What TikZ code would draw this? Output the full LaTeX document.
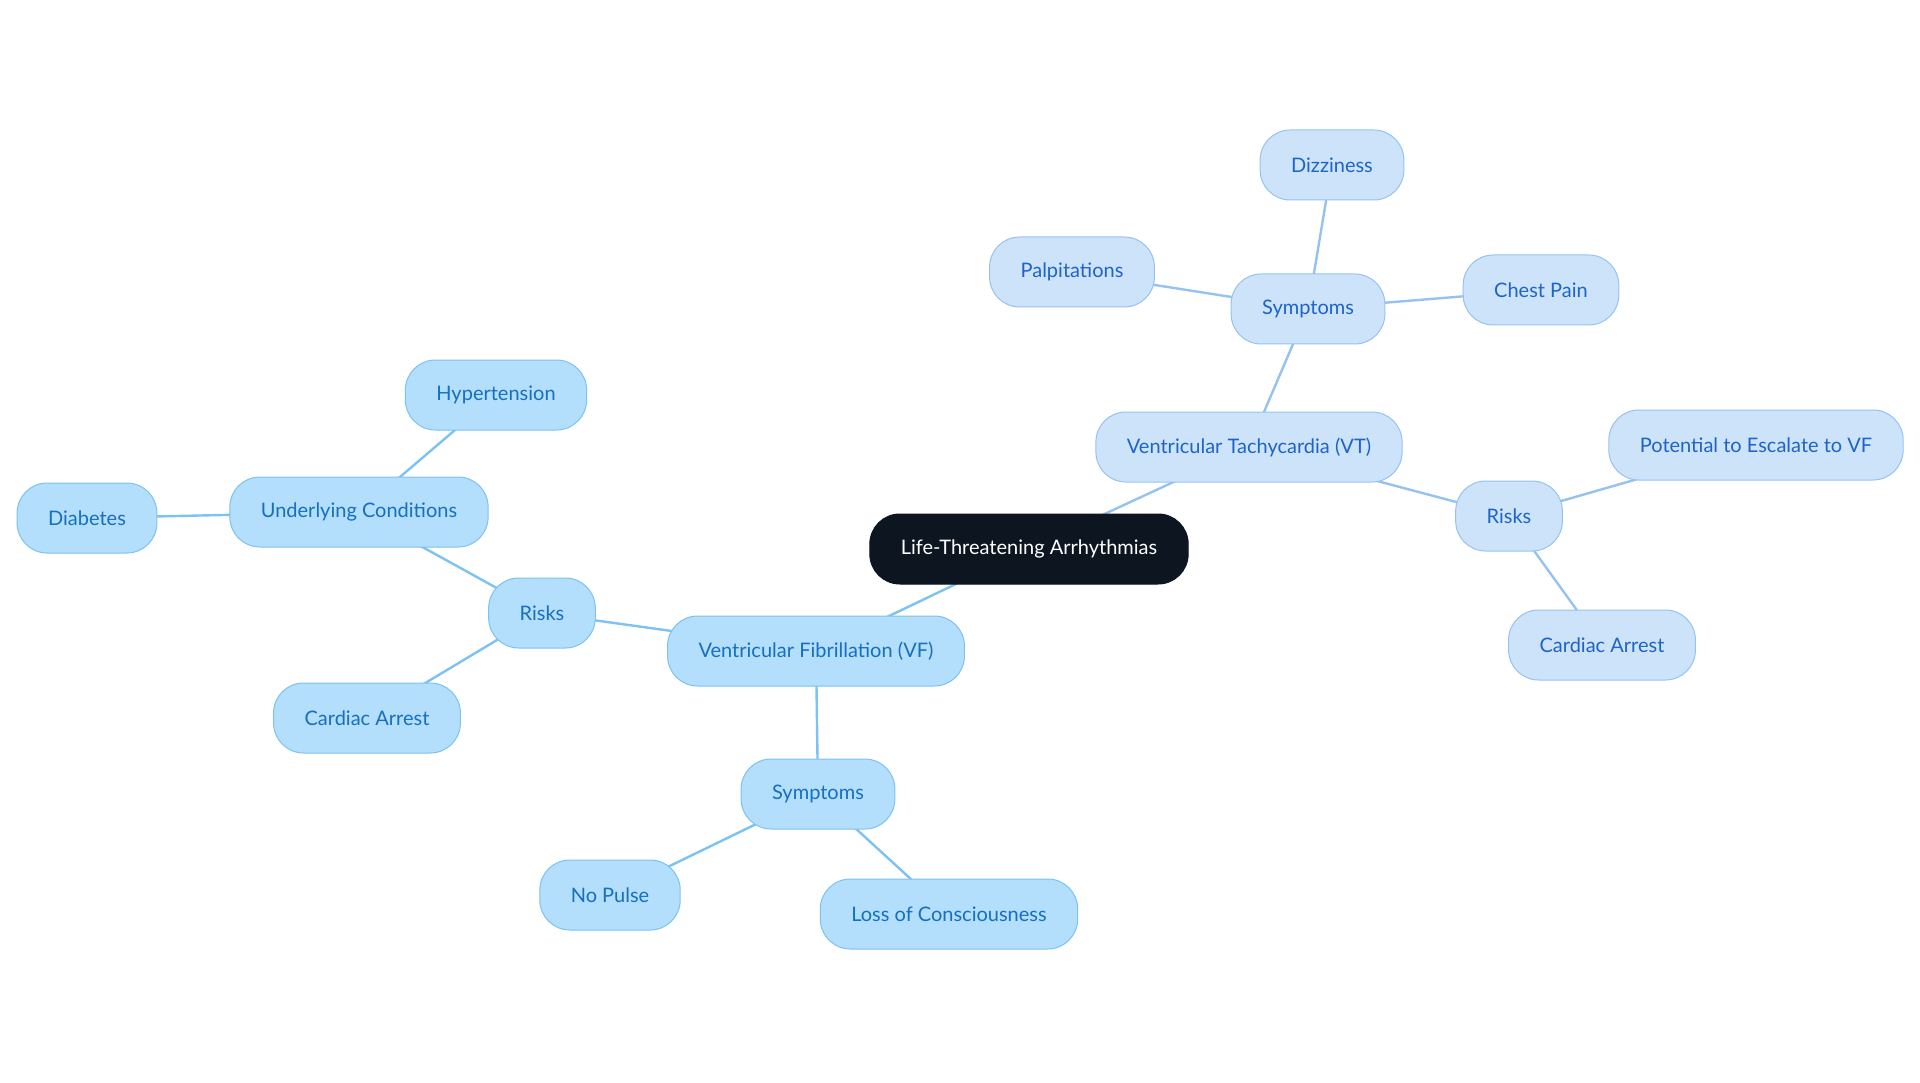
\documentclass[tikz,border=0pt]{standalone}
\usepackage{fontspec}
\setmainfont{Lato}
\usetikzlibrary{backgrounds}
\definecolor{rootfill}{HTML}{0D1520}
\definecolor{vffill}{HTML}{B3DEFC}
\definecolor{vfline}{HTML}{7CC2F2}
\definecolor{vftext}{HTML}{1570C0}
\definecolor{vtfill}{HTML}{CDE3FA}
\definecolor{vtline}{HTML}{96C2F0}
\definecolor{vttext}{HTML}{1E64C8}

\begin{document}
\begin{tikzpicture}[x=1pt,y=-1pt]
	\tikzset{
		box/.style = {rectangle, rounded corners=30pt, minimum height=70pt, inner xsep=31pt, line width=1pt, font=\fontsize{20}{24}\selectfont},
		root/.style = {box, fill=rootfill, draw=rootfill, text=white},
		vfbox/.style = {box, fill=vffill, draw=vfline, text=vftext},
		vtbox/.style = {box, fill=vtfill, draw=vtline, text=vttext},
		vfedge/.style = {draw=vfline, line width=2.4pt},
		vtedge/.style = {draw=vtline, line width=2.4pt}
	}
	\useasboundingbox (0,0) rectangle (1920,1083);
	\node[root] (R) at (1029,549) {Life-Threatening Arrhythmias};
	% tachycardia branch
	\node[vtbox] (VT) at (1249,447) {Ventricular Tachycardia (VT)};
	\node[vtbox] (VTS) at (1308,309) {Symptoms};
	\node[vtbox] (Diz) at (1332,165) {Dizziness};
	\node[vtbox] (Pal) at (1072,272) {Palpitations};
	\node[vtbox] (Che) at (1541,290) {Chest Pain};
	\node[vtbox] (VTR) at (1509,516) {Risks};
	\node[vtbox] (Esc) at (1756,445) {Potential to Escalate to VF};
	\node[vtbox] (VTA) at (1602,645) {Cardiac Arrest};
	% fibrillation branch
	\node[vfbox] (VF) at (816,651) {Ventricular Fibrillation (VF)};
	\node[vfbox] (VFS) at (818,794) {Symptoms};
	\node[vfbox] (NoP) at (610,895) {No Pulse};
	\node[vfbox] (Los) at (949,914) {Loss of Consciousness};
	\node[vfbox] (VFR) at (542,613) {Risks};
	\node[vfbox] (Und) at (359,512) {Underlying Conditions};
	\node[vfbox] (Hyp) at (496,395) {Hypertension};
	\node[vfbox] (Dia) at (87,518) {Diabetes};
	\node[vfbox] (VFA) at (367,718) {Cardiac Arrest};
	% connectors run centre to centre, under the boxes
	\begin{scope}[on background layer]
		\draw[vtedge] (R.center) -- (VT.center);
		\draw[vtedge] (VT.center) -- (VTS.center);
		\draw[vtedge] (VTS.center) -- (Diz.center);
		\draw[vtedge] (VTS.center) -- (Pal.center);
		\draw[vtedge] (VTS.center) -- (Che.center);
		\draw[vtedge] (VT.center) -- (VTR.center);
		\draw[vtedge] (VTR.center) -- (Esc.center);
		\draw[vtedge] (VTR.center) -- (VTA.center);
		\draw[vfedge] (R.center) -- (VF.center);
		\draw[vfedge] (VF.center) -- (VFS.center);
		\draw[vfedge] (VFS.center) -- (NoP.center);
		\draw[vfedge] (VFS.center) -- (Los.center);
		\draw[vfedge] (VF.center) -- (VFR.center);
		\draw[vfedge] (VFR.center) -- (Und.center);
		\draw[vfedge] (Und.center) -- (Hyp.center);
		\draw[vfedge] (Und.center) -- (Dia.center);
		\draw[vfedge] (VFR.center) -- (VFA.center);
	\end{scope}
\end{tikzpicture}
\end{document}
